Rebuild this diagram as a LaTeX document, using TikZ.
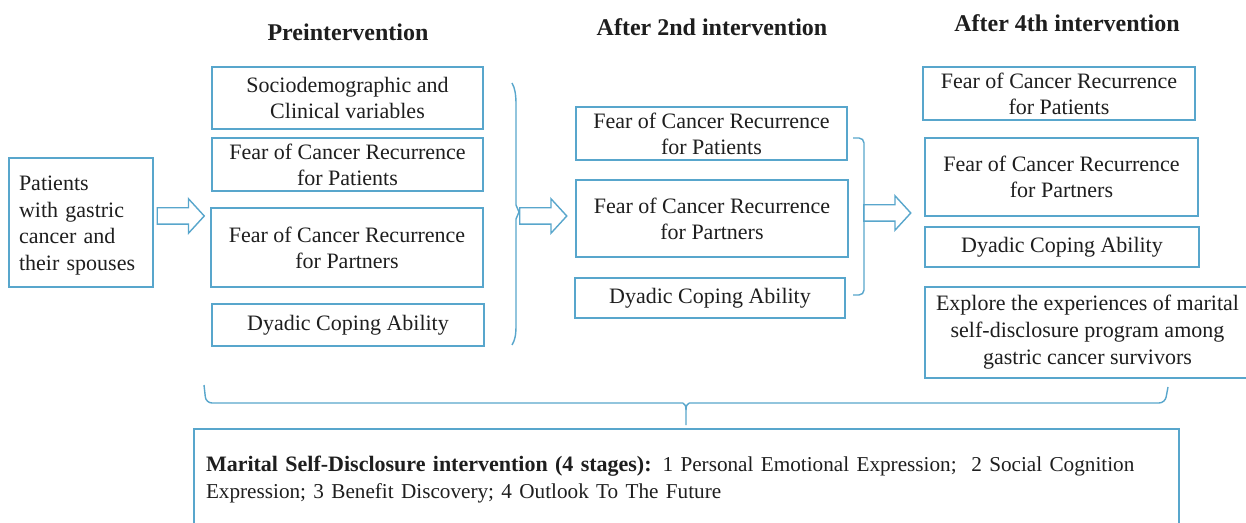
\documentclass[tikz,border=0pt]{standalone}
\usepackage{fontspec}
\setmainfont{Liberation Serif}
\usetikzlibrary{shapes.arrows}
\definecolor{bcol}{RGB}{88,166,204}
\definecolor{tcol}{RGB}{30,30,30}
\begin{document}
\begin{tikzpicture}[x=0.5pt,y=-0.5pt,
  box/.style={draw=bcol, line width=0.7pt, inner sep=0pt, align=center,
    font=\fontsize{11}{13}\selectfont, text=tcol},
  title/.style={font=\fontsize{12}{14}\selectfont\bfseries, text=tcol, inner sep=0pt},
  harrow/.style={single arrow, draw=bcol, line width=0.7pt, fill=white,
    single arrow head extend=4.5pt, single arrow tip angle=95,
    inner xsep=0pt, inner ysep=3.75pt, minimum height=23.5pt},
  brace/.style={draw=bcol, line width=0.7pt}]
\clip (0,0) rectangle (1246,523);
\fill[white] (0,0) rectangle (1246,523);

% titles
\node[title] (t1) at (348,32) {Preintervention};
\node[title] (t2) at (712,27) {After 2nd intervention};
\node[title] (t3) at (1067,23) {After 4th intervention};

% left box
\node[box, minimum width=72pt, minimum height=64.5pt, text width=62pt,
  inner xsep=5pt, align=left, font=\fontsize{11}{13.3}\selectfont]
  (pat) at (81,222.5) {\rule{0pt}{10.5pt}Patients\\with gastric\\cancer and\\their spouses};

% column 1
\node[box, minimum width=135.5pt, minimum height=31pt] (soc) at (347.5,98)
  {Sociodemographic and\\Clinical variables};
\node[box, minimum width=135.5pt, minimum height=26.5pt] (fp1) at (347.5,164.5)
  {Fear of Cancer Recurrence\\for Patients};
\node[box, minimum width=136pt, minimum height=39.5pt] (fq1) at (347,247.5)
  {Fear of Cancer Recurrence\\for Partners};
\node[box, minimum width=136pt, minimum height=21pt] (dc1) at (348,325)
  {Dyadic Coping Ability};

% column 2
\node[box, minimum width=135.5pt, minimum height=26.5pt] (fp2) at (711.5,133.5)
  {Fear of Cancer Recurrence\\for Patients};
\node[box, minimum width=136pt, minimum height=38.5pt] (fq2) at (712,218.5)
  {Fear of Cancer Recurrence\\for Partners};
\node[box, minimum width=135pt, minimum height=20pt] (dc2) at (710,298)
  {Dyadic Coping Ability};

% column 3
\node[box, minimum width=136pt, minimum height=26.5pt] (fp3) at (1059,93.5)
  {Fear of Cancer Recurrence\\for Patients};
\node[box, minimum width=136.5pt, minimum height=39pt] (fq3) at (1061.5,177)
  {Fear of Cancer Recurrence\\for Partners};
\node[box, minimum width=137pt, minimum height=20pt] (dc3) at (1062,247)
  {Dyadic Coping Ability};
\node[box, minimum width=162.5pt, minimum height=45.5pt,
  font=\fontsize{11}{13.5}\selectfont] (exp) at (1087.5,332.5)
  {Explore the experiences of marital\\self-disclosure program among\\gastric cancer survivors};

% bottom box
\node[box, minimum width=492.5pt, minimum height=50.5pt, text width=480.5pt,
  inner xsep=6pt, align=left, font=\fontsize{11}{13.8}\selectfont]
  (msd) at (686.5,479.5)
  {\textbf{Marital Self-Disclosure intervention (4 stages):} {\fontsize{10.6}{13.8}\selectfont 1 Personal Emotional Expression;\ \ 2 Social Cognition\\
   Expression; 3 Benefit Discovery; 4 Outlook To The Future}};

% block arrows
\node[harrow] (a1) at (177,216) {};
\node[harrow] (a2) at (539.5,216) {};
\node[harrow] (a3) at (883.5,213) {};

% brace after column 1
\draw[brace] (512,83) .. controls (515,88) and (516,95) .. (516,105)
  -- (516,205) -- (519,212) -- (516,219) -- (516,325)
  .. controls (516,335) and (515,340) .. (512,345);

% bracket after column 2
\draw[brace, rounded corners=2.5pt] (853,138) -- (864,138) -- (864,295) -- (853,295);

% bottom brace
\draw[brace, rounded corners=3pt] (204,385) -- (206,403) -- (683,403);
\draw[brace] (683,403) .. controls (685,404) and (686,406) .. (686,410) -- (686,425);
\draw[brace] (686,410) .. controls (686,406) and (687,404) .. (689,403);
\draw[brace, rounded corners=3pt] (689,403) -- (1165,403) -- (1168,387);
\end{tikzpicture}
\end{document}
